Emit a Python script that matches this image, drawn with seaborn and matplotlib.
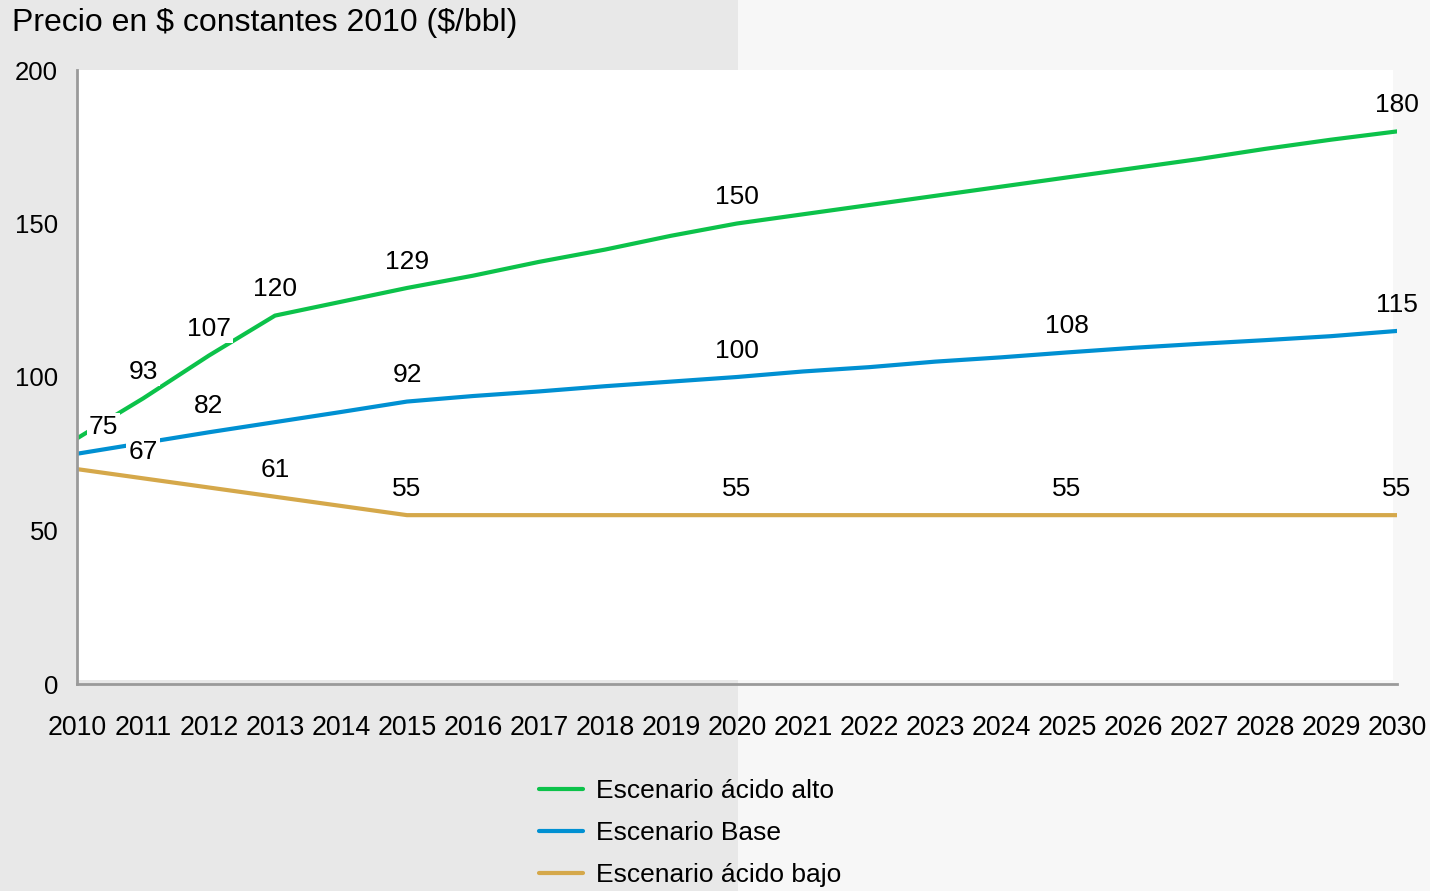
import matplotlib
matplotlib.use("Agg")
import matplotlib.pyplot as plt
import matplotlib.patches as mpatches
import seaborn as sns
import pandas as pd

# Years and price scenarios ($ constantes 2010, $/bbl)
years = list(range(2010, 2031))
alto = [80, 93, 107, 120, 124.5, 129, 133, 137.5, 141.5, 146, 150,
        153, 156, 159, 162, 165, 168, 171, 174.3, 177.3, 180]
base = [75, 78.5, 82, 85.3, 88.6, 92, 93.8, 95.3, 97, 98.5, 100,
        101.8, 103.2, 105, 106.4, 108, 109.5, 110.8, 112, 113.3, 115]
bajo = [70, 67, 64, 61, 58, 55, 55, 55, 55, 55, 55,
        55, 55, 55, 55, 55, 55, 55, 55, 55, 55]

series_names = ["Escenario ácido alto", "Escenario Base", "Escenario ácido bajo"]
series_values = [alto, base, bajo]
colors = ["#0cc24a", "#0090d2", "#d5a84a"]

# Which years carry a value label for each scenario
label_years = [
    [2011, 2012, 2013, 2015, 2020, 2030],
    [2010, 2012, 2015, 2020, 2025, 2030],
    [2011, 2013, 2015, 2020, 2025, 2030],
]
label_values = [
    [93, 107, 120, 129, 150, 180],
    [75, 82, 92, 100, 108, 115],
    [67, 61, 55, 55, 55, 55],
]

title = "Precio en $ constantes 2010 ($/bbl)"
yticks = [0, 50, 100, 150, 200]

sns.set_style("white")
plt.rcParams["font.family"] = ["Liberation Sans", "DejaVu Sans"]
plt.rcParams["text.color"] = "black"

rows = []
for name, vals in zip(series_names, series_values):
    for y, v in zip(years, vals):
        rows.append({"Año": y, "Precio": v, "Escenario": name})
df = pd.DataFrame(rows)

W, H = 1430, 891
fig = plt.figure(figsize=(W / 100, H / 100), dpi=100)
fig.patch.set_facecolor("#f7f7f7")
fig.patches.append(mpatches.Rectangle((0, 0), 738 / W, 1, transform=fig.transFigure,
                                      facecolor="#e8e8e8", edgecolor="none", zorder=-10))

ax = fig.add_axes([77 / W, 1 - 684 / H, (1397 - 77) / W, (684 - 70) / H])
ax.set_facecolor("none")
# white plotting area, stopping just short of the right end and the bottom axis
ax.add_patch(mpatches.Rectangle((0, 0.0065), 0.997, 0.9935, transform=ax.transAxes,
                                facecolor="white", edgecolor="none", zorder=0))

sns.lineplot(data=df, x="Año", y="Precio", hue="Escenario", hue_order=series_names,
             palette=colors, linewidth=3, ax=ax, legend=True, zorder=2)
handles, labels = ax.get_legend_handles_labels()
ax.get_legend().remove()

ax.set_xlim(2010, 2030)
ax.set_ylim(0, 200)
ax.set_xticks(years)
ax.set_xticklabels([str(y) for y in years])
ax.set_yticks(yticks)
ax.set_xlabel("")
ax.set_ylabel("")

gray = "#9a9a9a"
for side in ["top", "right"]:
    ax.spines[side].set_visible(False)
for side in ["left", "bottom"]:
    ax.spines[side].set_color(gray)
    ax.spines[side].set_linewidth(2)
ax.tick_params(axis="both", which="major", direction="out", length=7, width=1.6,
               color=gray, labelsize=18.5, labelcolor="black")
ax.tick_params(axis="x", pad=15, labelsize=19.3)
ax.tick_params(axis="y", pad=6.5)

# Value labels above the lines; those inside the plot get a white backing
for vals_y, vals_v, c in zip(label_years, label_values, colors):
    for yr, v in zip(vals_y, vals_v):
        dx = 19 if (yr == 2010) else 0
        box = None if yr == 2030 else dict(facecolor="white", edgecolor="none", pad=1.5)
        ax.annotate(str(v), xy=(yr, v), xytext=(dx, 19), textcoords="offset points",
                    ha="center", va="center", fontsize=19, color="black", zorder=5,
                    bbox=box)

fig.text(12 / W, 1 - 23 / H, title, fontsize=23, ha="left", va="center",
         color="black", parse_math=False)

leg = fig.legend(handles, labels, loc="upper left", bbox_to_anchor=(539 / W, 1 - 779 / H),
                 frameon=False, fontsize=19, handlelength=1.65, handletextpad=0.5,
                 labelspacing=0.68, borderpad=0, borderaxespad=0)
for t in leg.get_texts():
    t.set_color("black")

fig.savefig("out.png", dpi=100, facecolor=fig.get_facecolor())
